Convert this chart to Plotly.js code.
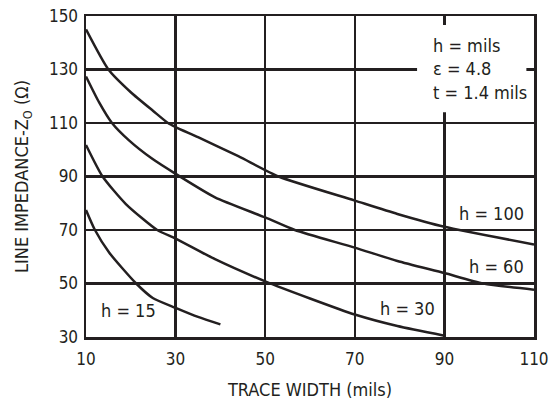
<!DOCTYPE html>
<html>
<head>
<meta charset="utf-8">
<script src="https://cdn.plot.ly/plotly-3.0.1.min.js"></script>
<style>html,body{margin:0;padding:0;background:#fff;}#chart{width:549px;height:400px;}</style>
</head>
<body>
<div id="chart"></div>
<script>
// Trace width (mils) vs line impedance Z0 (ohms)
const h15_x  = [10, 12, 15.2, 21.2, 24.9, 30, 35, 40];
const h15_y  = [77.5, 70, 61.5, 50, 44.6, 40.9, 37.5, 34.7];

const h30_x  = [10, 13.7, 18.9, 25.9, 30, 38.8, 50, 60, 70, 79.5, 90];
const h30_y  = [101.8, 90, 79.7, 70, 66.8, 59.1, 50.8, 44.4, 38.4, 34.1, 30.5];

const h60_x  = [10, 12.9, 15.8, 19.6, 24.8, 30, 38.8, 50, 56.6, 70, 79.5, 90, 98.7, 110];
const h60_y  = [127.4, 117.8, 110, 103.5, 96.6, 91.0, 82.2, 74.7, 70, 63.4, 58.4, 53.9, 50, 47.7];

const h100_x = [10, 15, 20, 25, 28.3, 30, 35, 44, 53, 70, 79.5, 90, 110];
const h100_y = [145, 130, 121.5, 114.5, 110, 108.5, 104.7, 97.6, 90, 81.0, 76.0, 71.2, 64.6];

const seriesNames = ["h = 15", "h = 30", "h = 60", "h = 100"];
const xTickVals = [10, 30, 50, 70, 90, 110];
const yTickVals = [30, 50, 70, 90, 110, 130, 150];
const noteLines = ["h = mils", "ε = 4.8", "t = 1.4 mils"];

const INK = '#231f20';
const FONT = '"DejaVu Sans Condensed", "Liberation Sans", Arial, sans-serif';
const FS = 18;
const TFS = 17;

const xs = [h15_x, h30_x, h60_x, h100_x];
const ys = [h15_y, h30_y, h60_y, h100_y];
const traces = xs.map((x, i) => ({
  x: x, y: ys[i], name: seriesNames[i], type: 'scatter', mode: 'lines',
  line: {color: INK, width: 2.5, shape: 'spline', smoothing: 0.6},
  hoverinfo: 'skip', showlegend: false
}));

const axisCommon = {
  showline: true, mirror: true, linecolor: INK, linewidth: 2.5,
  showgrid: true, gridcolor: INK, gridwidth: 2.5,
  zeroline: false, ticks: '', fixedrange: true,
  ticklabeloverflow: 'allow',
  tickfont: {family: FONT, size: TFS, color: INK}
};

const layout = {
  width: 549, height: 400,
  margin: {l: 86, r: 15, t: 16, b: 63},
  paper_bgcolor: '#fff', plot_bgcolor: '#fff',
  font: {family: FONT, size: FS, color: INK},
  showlegend: false,
  xaxis: Object.assign({}, axisCommon, {
    range: [10, 110], tickmode: 'array', tickvals: xTickVals,
    ticklabelstandoff: 5,
    title: {text: 'TRACE WIDTH (mils)', font: {family: FONT, size: FS, color: INK}, standoff: 16}
  }),
  yaxis: Object.assign({}, axisCommon, {
    range: [30, 150], tickmode: 'array', tickvals: yTickVals,
    ticklabelstandoff: 2,
    title: {text: 'LINE IMPEDANCE-Z<sub>O</sub> (Ω)', font: {family: FONT, size: FS, color: INK}, standoff: 16}
  }),
  shapes: [
    {type: 'rect', xref: 'x', yref: 'y', x0: 83.9, x1: 108.3, y0: 114, y1: 146.6,
     fillcolor: '#fff', line: {width: 0}, layer: 'above'}
  ],
  annotations: [
    {x: 87.0, y: 143.8, xref: 'x', yref: 'y', xanchor: 'left', yanchor: 'top', align: 'left',
     text: noteLines.join('<br>'), showarrow: false, font: {family: FONT, size: FS, color: INK}},
    {x: 19.4, y: 39.9, xref: 'x', yref: 'y', xanchor: 'center', yanchor: 'middle',
     text: seriesNames[0], showarrow: false, font: {family: FONT, size: FS, color: INK}},
    {x: 81.7, y: 40.6, xref: 'x', yref: 'y', xanchor: 'center', yanchor: 'middle',
     text: seriesNames[1], showarrow: false, font: {family: FONT, size: FS, color: INK}},
    {x: 108.2, y: 56.4, xref: 'x', yref: 'y', xanchor: 'right', yanchor: 'middle',
     text: seriesNames[2], showarrow: false, font: {family: FONT, size: FS, color: INK}},
    {x: 108.2, y: 76.3, xref: 'x', yref: 'y', xanchor: 'right', yanchor: 'middle',
     text: seriesNames[3], showarrow: false, font: {family: FONT, size: FS, color: INK}}
  ]
};

Plotly.newPlot('chart', traces, layout, {staticPlot: true, displayModeBar: false});
</script>
</body>
</html>
